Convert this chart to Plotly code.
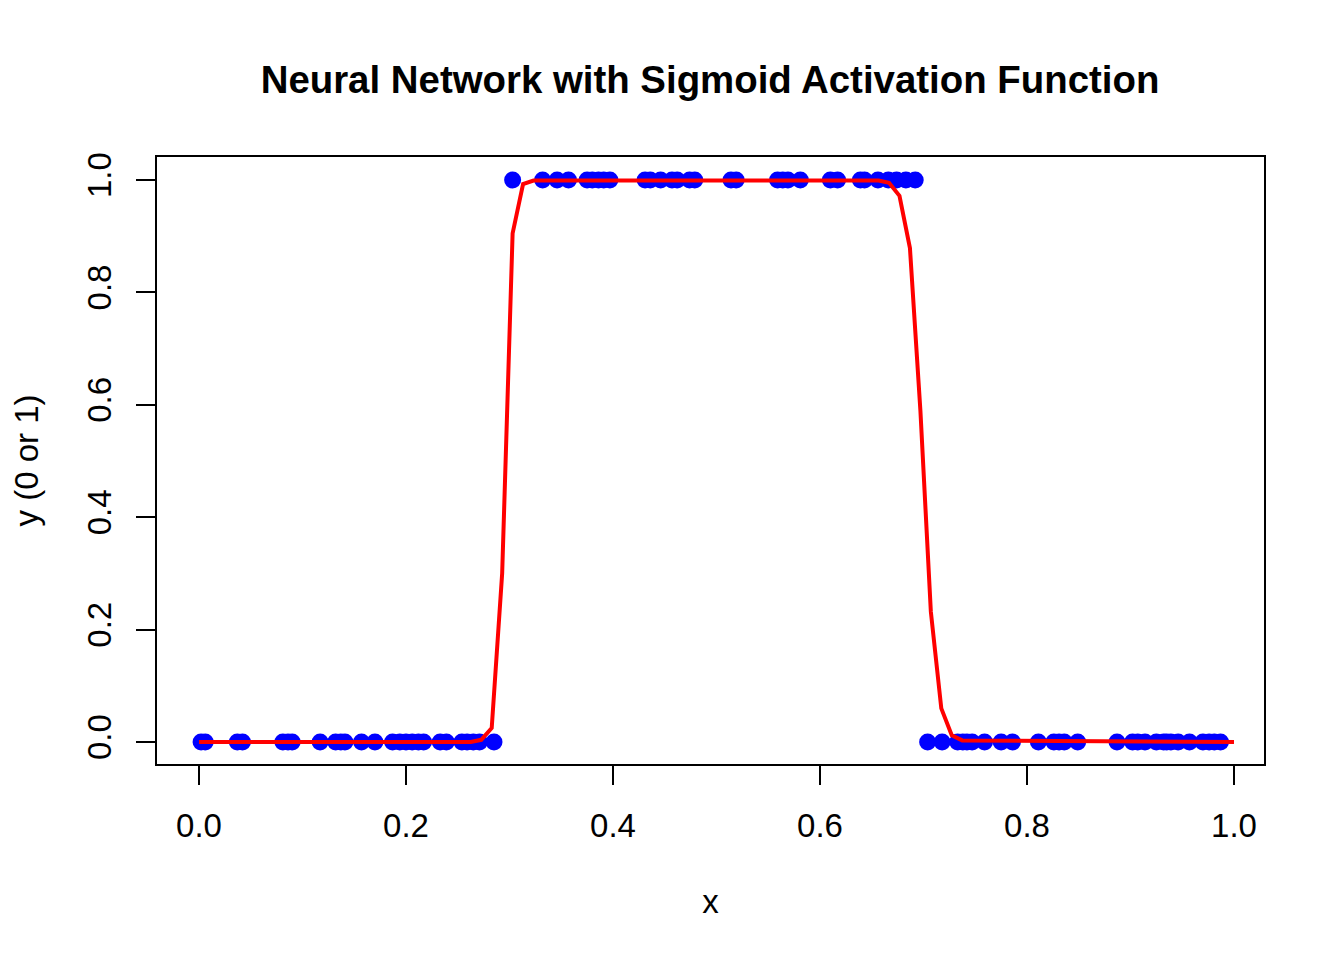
import plotly.graph_objects as go

# observed data: x positions of the 0/1 samples
x_zero_left = [0.002, 0.006, 0.037, 0.042, 0.081, 0.086, 0.090, 0.117, 0.132, 0.137,
               0.141, 0.157, 0.170, 0.187, 0.194, 0.200, 0.206, 0.212, 0.217, 0.233,
               0.239, 0.254, 0.259, 0.265, 0.271, 0.285]
x_one = [0.303, 0.332, 0.346, 0.357, 0.375, 0.380, 0.386, 0.391, 0.397, 0.431,
         0.436, 0.446, 0.457, 0.462, 0.474, 0.479, 0.514, 0.519, 0.559, 0.564,
         0.569, 0.581, 0.610, 0.617, 0.639, 0.643, 0.656, 0.666, 0.674, 0.683, 0.692]
x_zero_right = [0.704, 0.718, 0.733, 0.738, 0.742, 0.747, 0.759, 0.775, 0.786, 0.811,
                0.826, 0.831, 0.836, 0.849, 0.887, 0.902, 0.907, 0.914, 0.925, 0.932,
                0.935, 0.939, 0.946, 0.957, 0.970, 0.976, 0.981, 0.987]

x_points = x_zero_left + x_one + x_zero_right
y_points = [0] * len(x_zero_left) + [1] * len(x_one) + [0] * len(x_zero_right)

# fitted network output
x_curve = [0.0, 0.2626, 0.2727, 0.2828, 0.2929, 0.3030, 0.3131, 0.3232, 0.6566, 0.6667,
           0.6768, 0.6869, 0.6970, 0.7071, 0.7172, 0.7273, 0.7374, 1.0]
y_curve = [0.0, 0.0, 0.004, 0.025, 0.30, 0.905, 0.993, 0.999, 0.999, 0.995,
           0.972, 0.879, 0.59, 0.232, 0.06, 0.012, 0.003, 0.0]

tick_vals = [0.0, 0.2, 0.4, 0.6, 0.8, 1.0]
tick_text = ["0.0", "0.2", "0.4", "0.6", "0.8", "1.0"]

FONT = "Liberation Sans, Arial, Helvetica, sans-serif"

fig = go.Figure()
fig.add_trace(go.Scatter(x=x_points, y=y_points, mode="markers",
                         marker=dict(color="blue", size=17), showlegend=False))
fig.add_trace(go.Scatter(x=x_curve, y=y_curve, mode="lines",
                         line=dict(color="red", width=4), showlegend=False))

axis_common = dict(showline=True, linecolor="black", linewidth=2, mirror=True,
                   ticks="outside", ticklen=19, tickwidth=2, tickcolor="black",
                   showgrid=False, zeroline=False, tickvals=tick_vals, ticktext=tick_text,
                   tickfont=dict(size=33, color="black", family=FONT),
                   ticklabelstandoff=12, automargin=False)

# page body adds ~8px offset, so margins are shifted to land the box where R put it
fig.update_layout(
    width=1344, height=960,
    margin=dict(l=149, r=88, t=149, b=204),
    paper_bgcolor="white", plot_bgcolor="white",
    font=dict(family=FONT, color="black"),
    title=dict(text="<b>Neural Network with Sigmoid Activation Function</b>",
               x=702 / 1344, xanchor="center",
               y=1 - 72 / 960, yanchor="middle",
               font=dict(size=38.4, color="black", family=FONT)),
    xaxis=dict(range=[-0.0406, 1.029], title=dict(text="x", font=dict(size=33), standoff=47),
               **axis_common),
    yaxis=dict(range=[-0.039, 1.041], tickangle=-90,
               title=dict(text="y (0 or 1)", font=dict(size=33), standoff=43),
               **axis_common),
)

fig.write_html("out.html")
